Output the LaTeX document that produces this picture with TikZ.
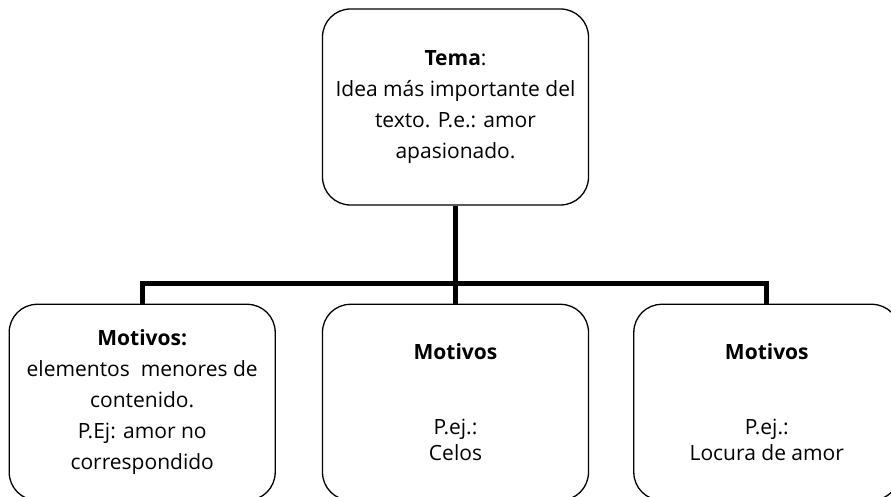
\documentclass[tikz,border=0pt]{standalone}
\usepackage{fontspec}
\setmainfont{Open Sans}
\usetikzlibrary{positioning}

\begin{document}
\begin{tikzpicture}[
    x=1pt, y=-1pt,
    every node/.style={
        draw,
        rectangle,
        rounded corners=28pt,
        line width=1.3pt,
        minimum width=266pt,
        minimum height=196pt,
        align=center,
        font=\fontsize{21}{31}\selectfont
    },
    conn/.style={line width=5pt}
]
\useasboundingbox (0,0) rectangle (891,497);

\node (tema) at (455.5,107) {\textbf{Tema}:\\Idea más importante del\\texto. P.e.: amor\\apasionado.};

% Add motivos
\node[below=98pt of tema] (celos) {\textbf{Motivos}\\[44pt]P.ej.:\\[-5pt]Celos};
\node[left=46pt of celos] (motivos) {\textbf{Motivos:}\\elementos\ \ menores de\\contenido.\\P.Ej: amor no\\correspondido};
\node[right=44pt of celos] (locura) {\textbf{Motivos}\\[44pt]P.ej.:\\[-5pt]Locura de amor};

% Connectors
\draw[conn] (tema.south) -- (celos.north);
\draw[conn] (motivos.north) -- ++(0,-20) -| (locura.north);

\end{tikzpicture}
\end{document}
